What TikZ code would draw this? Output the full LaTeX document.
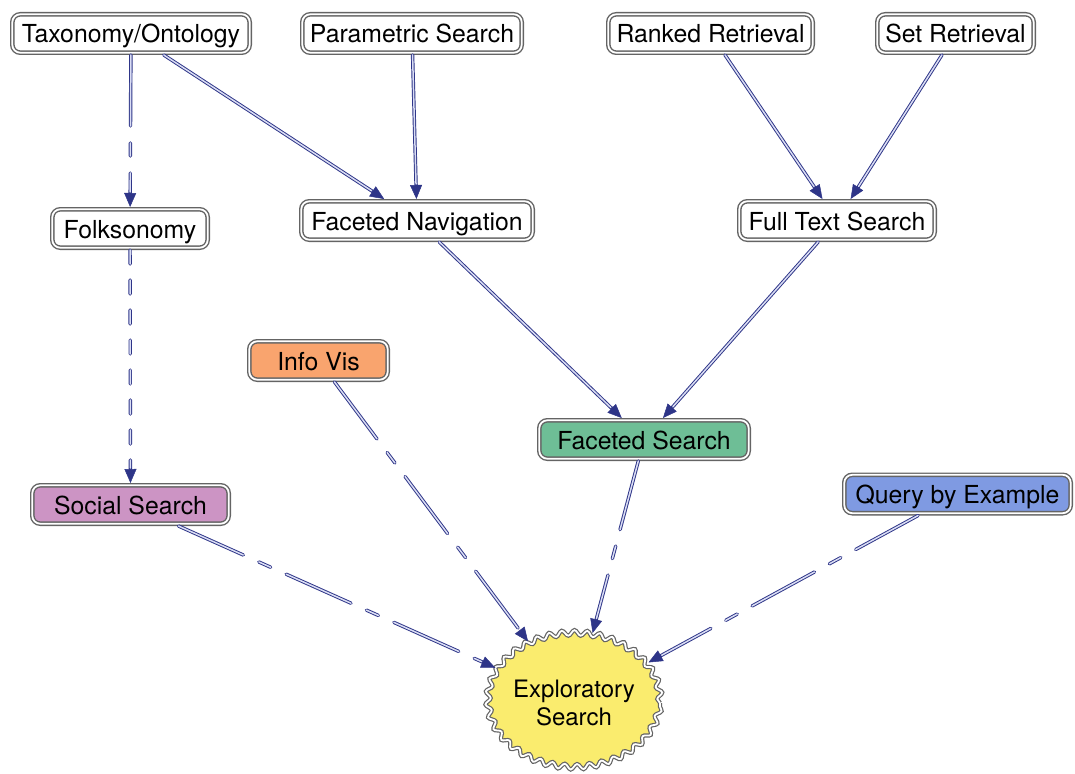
\documentclass[tikz,border=0pt]{standalone}
\usepackage{fontspec}
\setmainfont{TeX Gyre Heros}
\usetikzlibrary{arrows.meta,shapes.geometric,decorations.pathmorphing}

\definecolor{boxline}{HTML}{646464}
\definecolor{linkdark}{HTML}{2E3588}
\definecolor{linklight}{HTML}{DADDF4}
\definecolor{visfill}{HTML}{F9A46E}
\definecolor{facetfill}{HTML}{6EBE96}
\definecolor{socialfill}{HTML}{CC94C4}
\definecolor{qbefill}{HTML}{7F9AE2}
\definecolor{explfill}{HTML}{FAEC6E}

\tikzset{
  topic/.style={draw=boxline, double=white, line width=1.4pt, double distance=1.8pt,
    rounded corners=8pt, fill=white, minimum height=38.4pt, inner xsep=0pt,
    text height=24pt, text depth=5pt, outer sep=2.3pt,
    font=\fontsize{24.8}{28}\selectfont},
  link/.style={draw=linkdark, line width=3.4pt, line cap=round,
    -{Triangle[length=14pt 0 0, width=12pt 0 0, line width=0.5pt 0 0]},
    postaction={draw=linklight, line width=1.5pt, -, shorten >=15pt}},
  longdash/.style={dash pattern=on 71pt off 17pt on 13pt off 17pt},
  shortdash/.style={dash pattern=on 14pt off 16pt},
}

\begin{document}
\begin{tikzpicture}[x=1pt, y=-1pt]
  \useasboundingbox (0,0) rectangle (1075,773);

  % top row
  \node[topic, minimum width=237.4pt] (tax)  at (131,33.5)   {Taxonomy/Ontology};
  \node[topic, minimum width=219.4pt] (par)  at (412,33.5)   {Parametric Search};
  \node[topic, minimum width=204.4pt] (rank) at (710.5,33.5) {Ranked Retrieval};
  \node[topic, minimum width=156.4pt] (set)  at (955.5,33.5) {Set Retrieval};

  % second row
  \node[topic, minimum width=155.4pt] (folk) at (130,228.5)  {Folksonomy};
  \node[topic, minimum width=231.4pt] (fnav) at (417,220.5)  {Faceted Navigation};
  \node[topic, minimum width=195.4pt] (full) at (837,220.5)  {Full Text Search};

  % coloured search styles
  \node[topic, fill=visfill, minimum width=138.4pt]    (vis)     at (318.5,360.5) {Info Vis};
  \node[topic, fill=facetfill, minimum width=209.4pt]  (fsearch) at (644,439.5)   {Faceted Search};
  \node[topic, fill=socialfill, minimum width=196.4pt] (social)  at (130.5,504.5) {Social Search};
  \node[topic, fill=qbefill, minimum width=226.4pt]    (qbe)     at (957.5,494)   {Query by Example};

  % central goal with a wavy double border
  \node[ellipse, draw=boxline, double=white, line width=1.2pt, double distance=1.8pt,
    fill=explfill, minimum width=166pt, minimum height=134pt, inner sep=0pt,
    outer sep=4.5pt, align=center, font=\fontsize{24}{28}\selectfont,
    decorate, decoration={snake, segment length=12.56pt, amplitude=2.7pt}]
    (expl) at (574,703) {Exploratory\\Search};

  % connections
  \draw[link, longdash]  (tax) -- (folk);
  \draw[link]            (tax) -- (fnav);
  \draw[link]            (par) -- (fnav);
  \draw[link]            (rank) -- (full);
  \draw[link]            (set) -- (full);
  \draw[link, shortdash] (folk) -- (social);
  \draw[link]            (fnav) -- (fsearch);
  \draw[link]            (full) -- (fsearch);
  \draw[link, longdash]  (social) -- (expl);
  \draw[link, longdash]  (vis) -- (expl);
  \draw[link, longdash]  (fsearch) -- (expl);
  \draw[link, longdash]  (qbe) -- (expl);
\end{tikzpicture}
\end{document}
